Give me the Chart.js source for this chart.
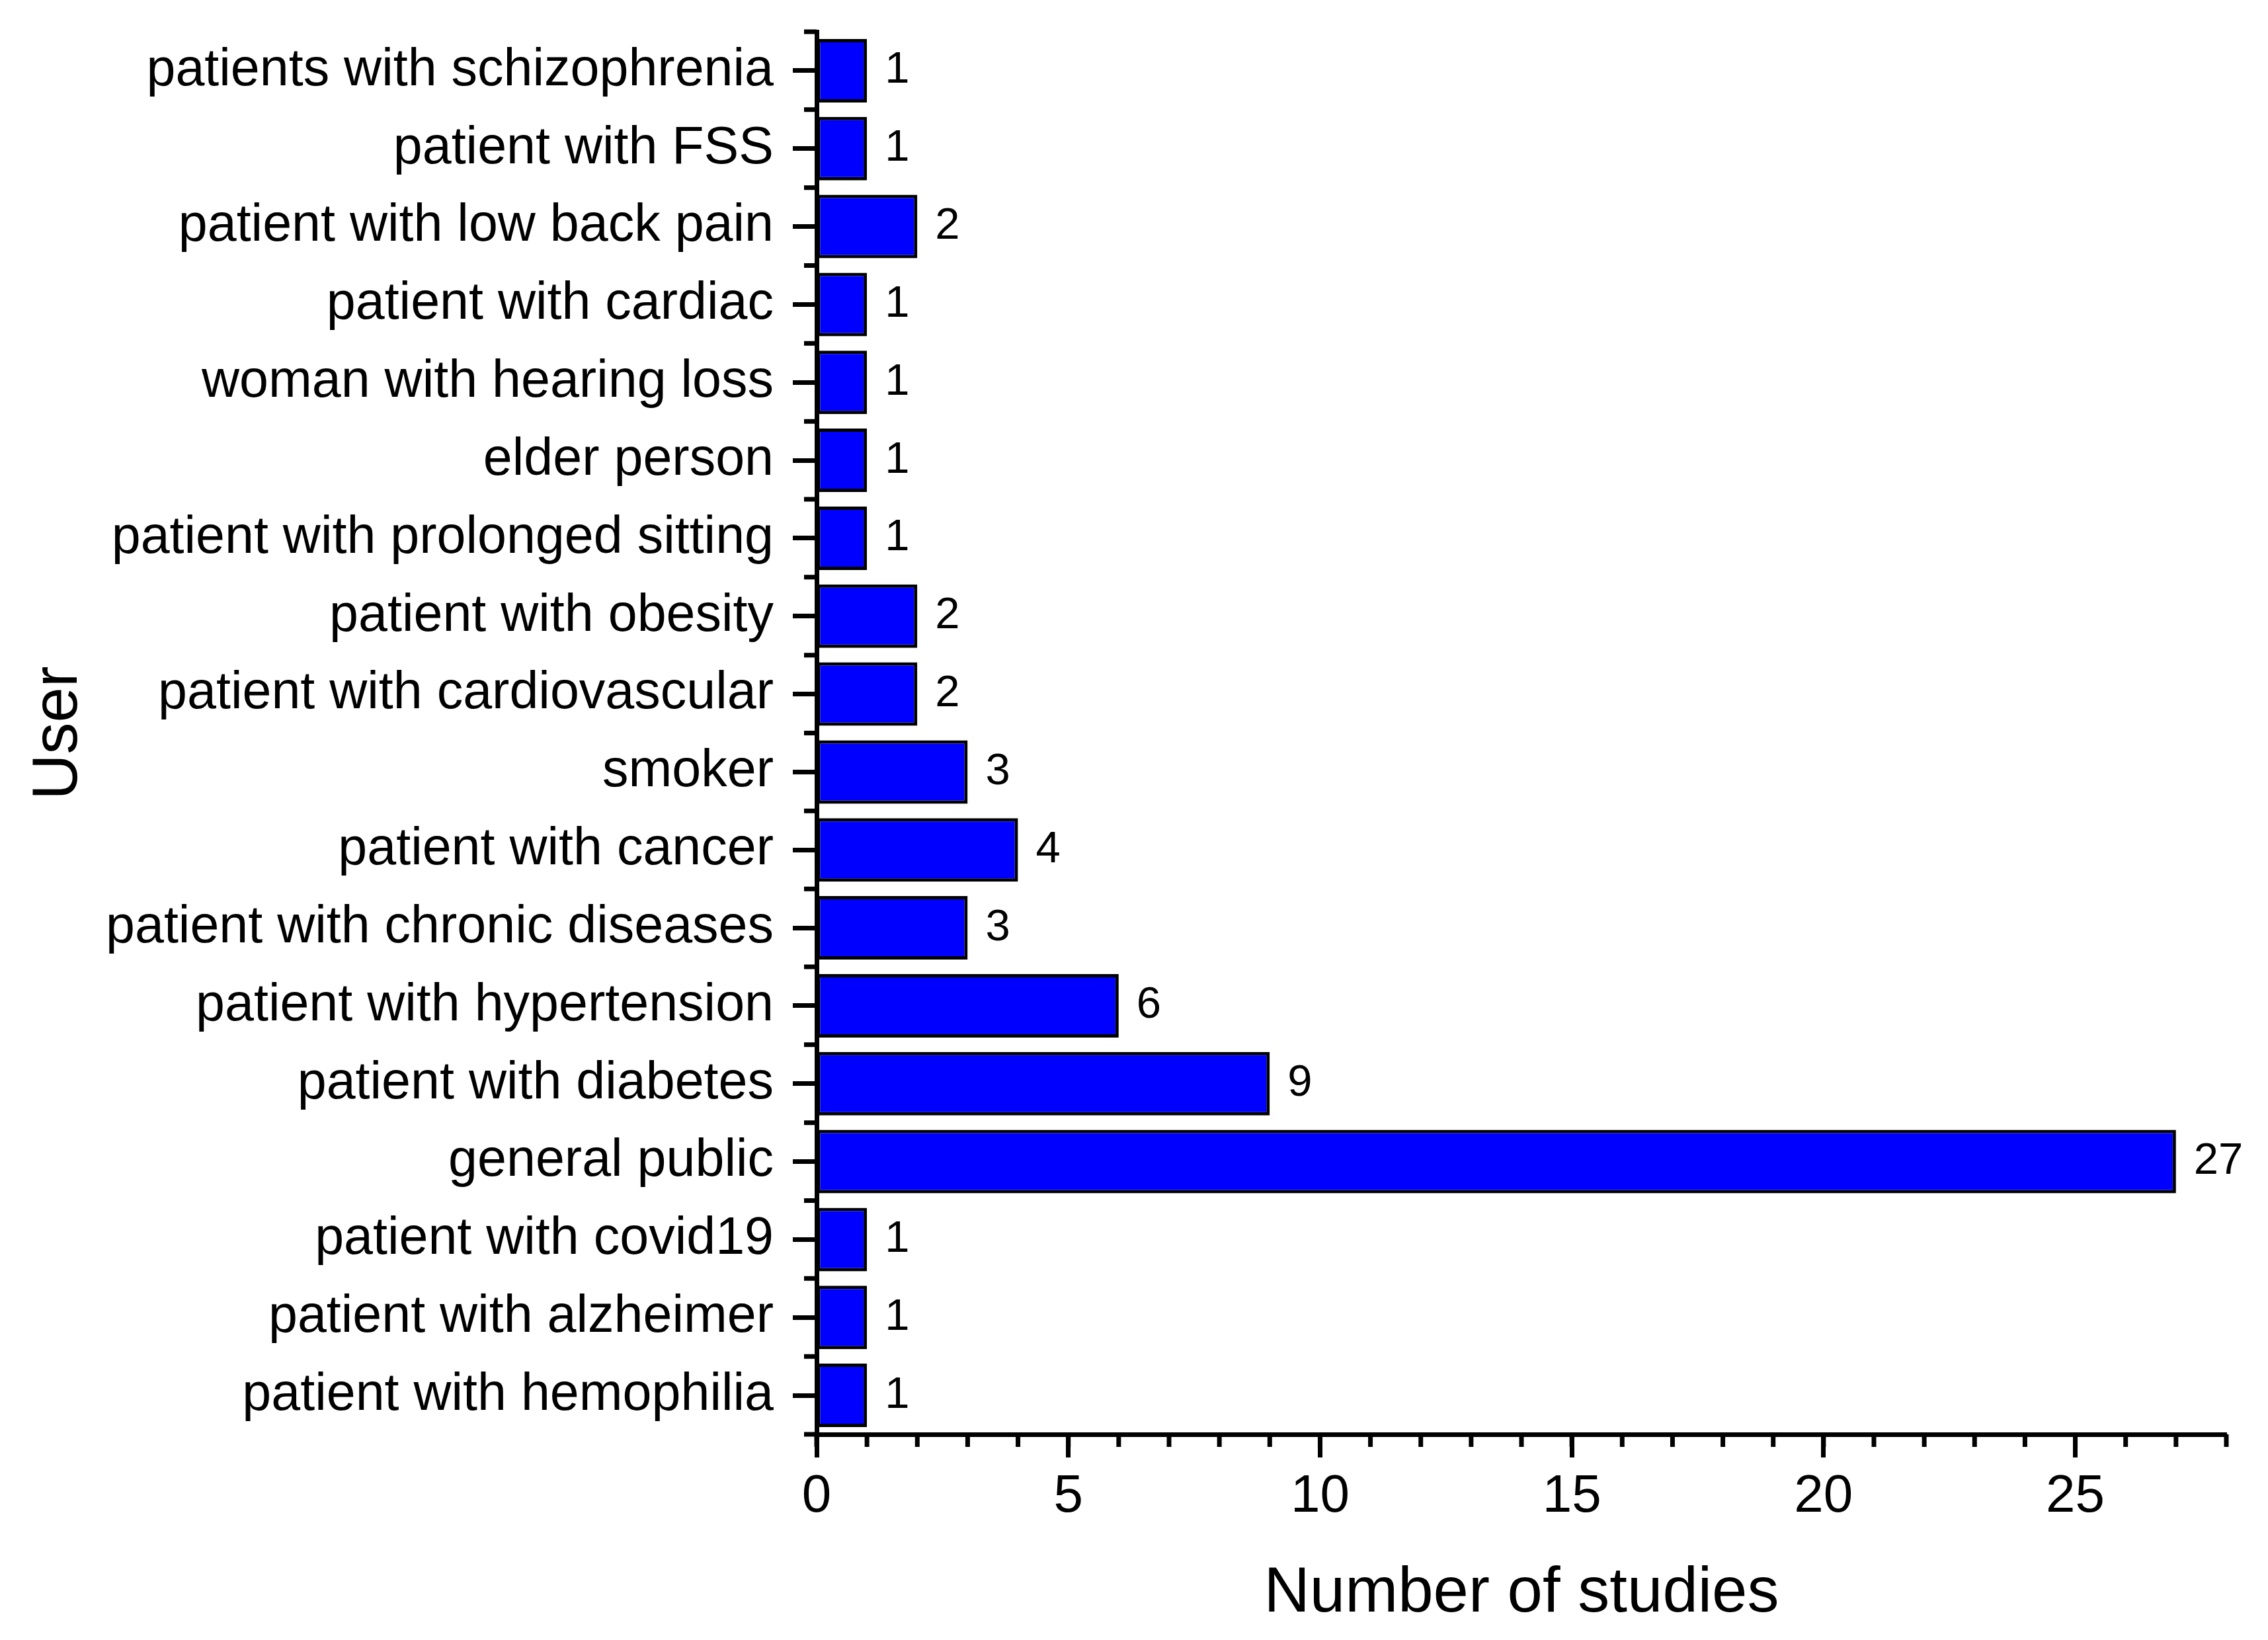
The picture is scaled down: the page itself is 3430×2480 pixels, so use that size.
<!DOCTYPE html>
<html>
<head>
<meta charset="utf-8">
<style>
  html, body { margin: 0; padding: 0; background: #fff; }
  canvas { display: block; }
</style>
<script src="https://cdn.jsdelivr.net/npm/chart.js@4/dist/chart.umd.min.js"></script>
</head>
<body>
<canvas id="usersChart" width="3430" height="2480"></canvas>
<script>
// categories from top to bottom, as in the figure
const users = [
  "patients with schizophrenia",
  "patient with FSS",
  "patient with low back pain",
  "patient with cardiac",
  "woman with hearing loss",
  "elder person",
  "patient with prolonged sitting",
  "patient with obesity",
  "patient with cardiovascular",
  "smoker",
  "patient with cancer",
  "patient with chronic diseases",
  "patient with hypertension",
  "patient with diabetes",
  "general public",
  "patient with covid19",
  "patient with alzheimer",
  "patient with hemophilia",
];
const studies = [1, 1, 2, 1, 1, 1, 1, 2, 2, 3, 4, 3, 6, 9, 27, 1, 1, 1];
const xMin = 0;
const xMax = 28;
const xMajorStep = 5;

const FONT = "'Liberation Sans', Arial, sans-serif";
Chart.defaults.color = "#000";
Chart.defaults.font.family = FONT;

// short ticks between categories and at every unit on x
const minorTicks = {
  id: "minorTicks",
  afterDraw(chart) {
    const { ctx, chartArea } = chart;
    const x = chart.scales.x;
    const y = chart.scales.y;
    ctx.save();
    ctx.strokeStyle = "#000";
    ctx.lineWidth = 7;
    ctx.beginPath();
    for (let i = 0; i <= users.length; i++) {
      const py = y.getPixelForValue(i - 0.5);
      ctx.moveTo(chartArea.left, py);
      ctx.lineTo(chartArea.left - 19, py);
    }
    for (let v = xMin; v <= xMax; v++) {
      const px = x.getPixelForValue(v);
      ctx.moveTo(px, chartArea.bottom);
      ctx.lineTo(px, chartArea.bottom + 19);
    }
    ctx.stroke();
    ctx.restore();
  },
};

// number written at the end of each bar
const barValues = {
  id: "barValues",
  afterDatasetsDraw(chart) {
    const { ctx } = chart;
    const meta = chart.getDatasetMeta(0);
    ctx.save();
    ctx.fillStyle = "#000";
    ctx.font = "67px " + FONT;
    ctx.textAlign = "left";
    ctx.textBaseline = "middle";
    meta.data.forEach(function (bar, i) {
      ctx.fillText(String(studies[i]), bar.x + 27, bar.y);
    });
    ctx.restore();
  },
};

const ctx = document.getElementById("usersChart").getContext("2d");
const usersChart = new Chart(ctx, {
  type: "bar",
  data: {
    labels: users,
    datasets: [
      {
        data: studies,
        backgroundColor: "#0000ff",
        borderColor: "#000",
        borderWidth: 5,
        borderSkipped: false,
        categoryPercentage: 1,
        barPercentage: 0.815,
      },
    ],
  },
  options: {
    indexAxis: "y",
    responsive: false,
    animation: false,
    devicePixelRatio: 1,
    layout: {
      padding: { top: 48, right: 63, left: 0, bottom: 0 },
    },
    plugins: {
      legend: { display: false },
      tooltip: { enabled: false },
    },
    scales: {
      x: {
        type: "linear",
        min: xMin,
        max: xMax,
        afterFit(scale) {
          scale.height = 311;
          scale.paddingLeft = 0;
          scale.paddingRight = 0;
        },
        border: { display: true, color: "#000", width: 7 },
        grid: {
          drawOnChartArea: false,
          drawTicks: true,
          tickLength: 35,
          tickWidth: 7,
          tickColor: "#000",
        },
        ticks: {
          stepSize: xMajorStep,
          includeBounds: false,
          padding: 12,
          font: { size: 80 },
          maxRotation: 0,
        },
        title: {
          display: true,
          text: "Number of studies",
          font: { size: 96 },
          padding: { bottom: 12 },
        },
      },
      y: {
        type: "category",
        offset: true,
        afterFit(scale) {
          scale.width = 1235;
          scale.paddingTop = 0;
          scale.paddingBottom = 0;
        },
        border: { display: true, color: "#000", width: 7 },
        grid: {
          offset: false,
          drawOnChartArea: false,
          drawTicks: true,
          tickLength: 36,
          tickWidth: 7,
          tickColor: "#000",
        },
        ticks: {
          padding: 29,
          font: { size: 79 },
          autoSkip: false,
        },
        title: {
          display: true,
          text: "User",
          font: { size: 96 },
          padding: { top: 32 },
        },
      },
    },
  },
  plugins: [minorTicks, barValues],
});
</script>
</body>
</html>
